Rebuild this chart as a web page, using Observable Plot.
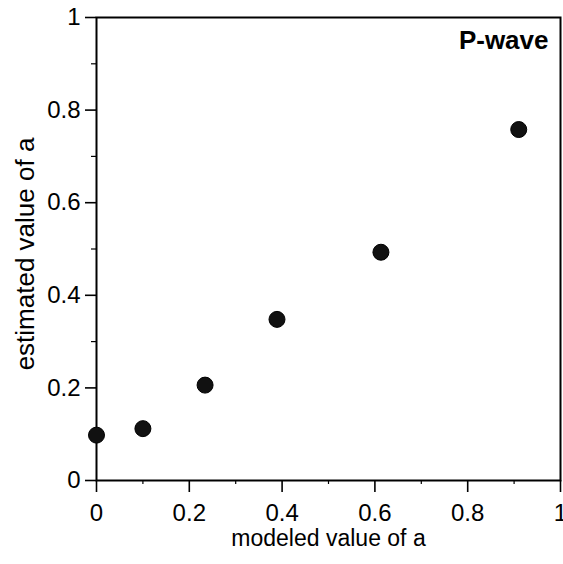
<!DOCTYPE html>
<html>
<head>
<meta charset="utf-8">
<script src="https://cdn.jsdelivr.net/npm/d3@7"></script>
<script src="https://cdn.jsdelivr.net/npm/@observablehq/plot@0.6"></script>
<style>
  html, body { margin: 0; padding: 0; background: #fff; }
  svg { display: block; }
</style>
</head>
<body>
<div id="chart"></div>
<script>
const modeled = [0, 0.1, 0.234, 0.389, 0.613, 0.91];
const estimated = [0.098, 0.112, 0.206, 0.348, 0.493, 0.758];
const majorTicks = [0, 0.2, 0.4, 0.6, 0.8, 1];
const minorTicks = [0.1, 0.3, 0.5, 0.7, 0.9];
const xLabel = "modeled value of a";
const yLabel = "estimated value of a";
const panelLabel = "P-wave";

const data = modeled.map((m, i) => ({m, e: estimated[i]}));
const fmt = d => d === 0 ? "0" : d === 1 ? "1" : String(d);

const chart = Plot.plot({
  width: 563,
  height: 564,
  marginLeft: 96,
  marginTop: 17,
  marginRight: 3,
  marginBottom: 84,
  style: {fontFamily: "'Liberation Sans', Arial, sans-serif", fontSize: "24px", color: "#000", background: "#fff"},
  x: {domain: [0, 1]},
  y: {domain: [0, 1]},
  marks: [
    Plot.axisX(majorTicks, {tickSize: 12, tickPadding: 11, tickFormat: fmt, strokeWidth: 1.6, label: null, fontSize: 24}),
    Plot.axisX(minorTicks, {tickSize: 4, tickFormat: () => "", strokeWidth: 1.2, label: null}),
    Plot.axisY(majorTicks, {tickSize: 11, tickPadding: 5, tickFormat: fmt, strokeWidth: 1.6, label: null, fontSize: 24}),
    Plot.axisY(minorTicks, {tickSize: 5, tickFormat: () => "", strokeWidth: 1.2, label: null}),
    Plot.frame({stroke: "#000", strokeWidth: 2}),
    Plot.dot(data, {x: "m", y: "e", r: 8, fill: "#111", stroke: "#000", strokeWidth: 1}),
    Plot.text([panelLabel], {frameAnchor: "top-right", dx: -12, dy: 13, textAnchor: "end", lineAnchor: "top", fontWeight: "bold", fontSize: 26}),
    Plot.text([xLabel], {frameAnchor: "bottom", dy: 58, lineAnchor: "middle", textAnchor: "middle", fontSize: 23}),
    Plot.text([yLabel], {frameAnchor: "left", dx: -71, dy: 5, rotate: -90, lineAnchor: "middle", textAnchor: "middle", fontSize: 26})
  ]
});
document.getElementById("chart").appendChild(chart);
</script>
</body>
</html>
